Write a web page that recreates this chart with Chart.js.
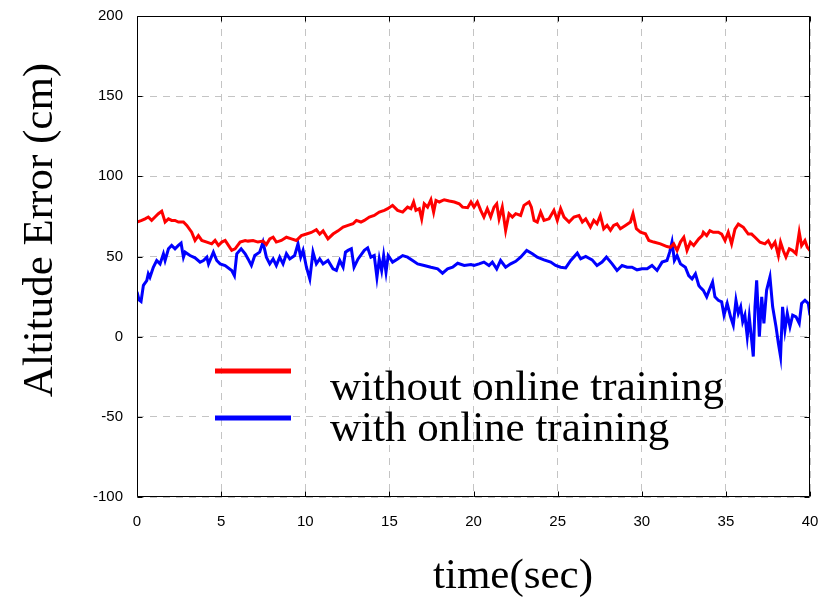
<!DOCTYPE html>
<html>
<head>
<meta charset="utf-8">
<script src="https://cdn.jsdelivr.net/npm/chart.js@4/dist/chart.umd.min.js"></script>
<style>
  html, body { margin: 0; padding: 0; background: #fff; }
  canvas { display: block; }
</style>
</head>
<body>
<canvas id="altChart" width="828" height="598"></canvas>
<script>
// time (sec) and altitude error (cm)
const redTime = [0, 0.28, 0.48, 0.67, 0.87, 1.07, 1.27, 1.47, 1.67, 1.87, 2.06, 2.26, 2.46, 2.76, 2.96, 3.25, 3.45, 3.65, 3.85, 4.15, 4.44, 4.64, 4.84, 5.04, 5.24, 5.63, 5.83, 6.13, 6.43,
    6.6, 6.9, 7.19, 7.49, 7.69, 7.89, 8.09, 8.28, 8.58, 8.88, 9.18, 9.47, 9.77, 10.07, 10.36, 10.66, 10.86, 11.06, 11.35, 11.65, 11.95, 12.25, 12.54, 12.84, 13.04,
    13.31, 13.51, 13.81, 14.1, 14.4, 14.7, 14.9, 15.19, 15.49, 15.79, 16.08, 16.28, 16.44, 16.58, 16.78, 16.92, 17.07, 17.27, 17.47, 17.63, 17.77, 17.97, 18.26, 18.56, 18.86, 19.15, 19.35, 19.65, 19.85,
    20.03, 20.23, 20.43, 20.62, 20.82, 21.02, 21.22, 21.38, 21.52, 21.71, 21.91, 22.11, 22.31, 22.51, 22.8, 23.0, 23.3, 23.44, 23.6, 23.79, 23.99, 24.19, 24.49, 24.78, 24.98, 25.18, 25.38, 25.68, 25.97, 26.27, 26.47, 26.67,
    26.95, 27.15, 27.34, 27.54, 27.74, 27.94, 28.14, 28.33, 28.53, 28.73, 29.03, 29.33, 29.48, 29.68, 29.92, 30.22, 30.42, 30.71, 31.11, 31.5, 31.7, 31.9, 32.1, 32.3, 32.5, 32.69, 32.89, 33.09, 33.39, 33.59,
    33.66, 33.86, 34.05, 34.25, 34.55, 34.75, 34.95, 35.14, 35.34, 35.54, 35.74, 36.04, 36.33, 36.53, 36.73, 37.03, 37.32, 37.52, 37.72, 37.92, 38.12, 38.25, 38.41, 38.57, 38.77, 38.97, 39.17, 39.36, 39.5, 39.7, 39.84, 40];
const redErr = [71.5, 72.5, 73.5, 74.6, 72.5, 74.6, 76.7, 78.3, 71.5, 73.5, 72.5, 72.5, 71.5, 71.5, 69.4, 65.2, 60, 63, 60, 59, 57.9, 60, 56.9, 59, 60, 53.8, 54.8, 59, 60,
    59.6, 60, 59, 59.6, 57.5, 61, 62, 59, 60, 62, 61, 60, 63, 64, 65, 66.7, 64, 66, 61, 64, 66, 68.3, 69.4, 70.4, 72.5,
    71.5, 72.5, 74.6, 75.6, 77.7, 78.8, 79.8, 81.9, 78.8, 77.7, 80.8, 79.8, 84, 78.8, 79.8, 73.5, 82.9, 80.8, 85.4, 77.7, 85, 84, 85.4, 84.6, 84, 82.9, 80.8, 80.4, 84,
    80.8, 84, 78.8, 74.6, 79.8, 74.6, 80.8, 82.9, 73.5, 80.8, 66.3, 76.7, 74.6, 76.7, 75.6, 81.9, 84, 80.8, 72.5, 71.5, 77.7, 72.5, 73.5, 78.8, 72.5, 79.8, 74.6, 71.5, 74.6, 75.6, 71.5, 73.5,
    68.3, 72.5, 70.4, 75.6, 67.3, 69.4, 66.3, 69.4, 70.4, 67.3, 69.4, 71.5, 76.7, 67.3, 65.2, 64.2, 60, 59, 57.9, 56.2, 55.7, 57.9, 53.8, 59, 62, 53.8, 59, 56.9, 61, 63,
    65.1, 63, 66.1, 65.1, 65.1, 64, 59.9, 65.1, 57.9, 67.1, 70.2, 68.2, 64, 64, 62, 58.9, 57.9, 59.9, 55.8, 58.9, 50.6, 58.9, 53.7, 49.6, 54.8, 53.7, 51.7, 65.1, 56.8, 59.9, 55.8, 53.7];

const blueTime = [0, 0.12, 0.24, 0.38, 0.58, 0.67, 0.77, 0.97, 1.17, 1.37, 1.57, 1.67, 1.87, 2.06, 2.26, 2.46, 2.62, 2.76, 2.86, 3.15, 3.45, 3.75, 3.95, 4.15, 4.25, 4.54, 4.74, 4.94, 5.24, 5.63, 5.79, 5.93, 6.19, 6.43,
    6.6, 6.8, 7.0, 7.29, 7.49, 7.69, 7.89, 8.09, 8.28, 8.48, 8.68, 8.88, 9.08, 9.37, 9.57, 9.73, 9.87, 10.07, 10.27, 10.46, 10.66, 10.86, 11.06, 11.35, 11.65, 11.85, 12.05, 12.25, 12.39, 12.54, 12.74, 12.9, 13.14,
    13.51, 13.71, 13.9, 14.1, 14.26, 14.4, 14.54, 14.66, 14.8, 14.93, 15.19, 15.49, 15.79, 16.08, 16.38, 16.68, 17.07, 17.47, 17.87, 18.16, 18.46, 18.76, 19.06, 19.45, 19.85,
    20.03, 20.33, 20.62, 20.92, 21.12, 21.38, 21.61, 21.91, 22.21, 22.51, 22.8, 23.16, 23.5, 23.79, 24.19, 24.59, 24.88, 25.18, 25.48, 25.78, 26.17, 26.37, 26.67,
    27.05, 27.34, 27.64, 27.9, 28.24, 28.53, 28.83, 29.13, 29.42, 29.72, 30.02, 30.32, 30.61, 30.91, 31.21, 31.5, 31.66, 31.8, 31.94, 32.1, 32.3, 32.59, 32.79, 32.99, 33.19, 33.39,
    33.46, 33.66, 33.86, 34.01, 34.21, 34.35, 34.55, 34.75, 34.89, 35.08, 35.28, 35.44, 35.6, 35.74, 35.88, 36.0, 36.13, 36.27, 36.39, 36.53, 36.63, 36.73, 36.83, 36.99, 37.13, 37.26, 37.42, 37.62, 37.78, 37.98, 38.12, 38.25, 38.37, 38.51, 38.65, 38.81, 38.97, 39.17, 39.36, 39.5, 39.7, 39.9, 40];
const blueErr = [28, 23, 22, 32, 35, 39.2, 37, 43.3, 47.5, 45.4, 51.7, 47.5, 54.8, 56.9, 54.8, 56.9, 58.3, 49.6, 52.7, 50.6, 49.2, 46.5, 47.5, 49.6, 45.4, 52.7, 47.5, 45.4, 44.4, 41.3, 38.1, 51.7, 54.8, 51.7,
    48.5, 44.4, 50.6, 52.7, 59, 49.6, 45.4, 48.5, 44.4, 49.6, 45.4, 51.7, 48.5, 50.6, 57.9, 49.6, 53.8, 43.3, 36, 52.7, 45.4, 48.5, 45.4, 47.5, 42.3, 41.3, 47.5, 43.3, 52.7, 53.8, 54.8, 43.3, 48.5,
    53.8, 55.4, 49.6, 50.6, 37, 48.5, 41.3, 50.6, 40.2, 50.6, 46.5, 48.5, 50.6, 49.6, 47.5, 45.4, 44.4, 43.3, 42.3, 39.6, 42.3, 43.3, 45.8, 44.4, 45,
    44.4, 45.4, 46.5, 44.4, 46.5, 42.3, 47.5, 43.3, 45.4, 47, 49.6, 53.8, 51.7, 49.6, 47.9, 46.5, 44.4, 43.3, 42.9, 47.5, 52.1, 48.5, 50,
    47.9, 44.4, 46.5, 49.6, 45.4, 41.3, 44.4, 43.3, 43.3, 41.7, 42.3, 42.3, 44.4, 41.3, 46.5, 47.5, 52.7, 59, 47.5, 50.6, 45.4, 43.3, 38.1, 36, 39.2, 31.9,
    31, 28.9, 24.8, 28.9, 34.1, 24.8, 22.7, 21.7, 13.4, 20.7, 12.4, 7.2, 22.7, 14.5, 18.6, 9.3, 13.4, 0, 12.4, -2, -12.4, 18.6, 35.1, 0, 24.8, 8.3, 28.9, 37.2, 18.6, 6.2, -4.1, -12.4, 18.6, 4.1, 14.5, 6.2, 13.4, 12.4, 8.3, 20.7, 22.7, 20.7, 13.4];

const seriesLabels = ['without online training', 'with online training'];
const seriesColors = ['#ff0000', '#0000ff'];
const xTicks = [0, 5, 10, 15, 20, 25, 30, 35, 40];
const yTicks = [-100, -50, 0, 50, 100, 150, 200];

function toPoints(ts, vs) {
    return ts.map((t, i) => ({ x: t, y: vs[i] }));
}

// box, inward ticks, titles and the in-plot legend
const decorPlugin = {
    id: 'decor',
    afterDatasetsDraw(chart) {
        const { ctx, chartArea: a, scales: { x, y } } = chart;
        ctx.save();
        ctx.strokeStyle = '#000';
        ctx.lineWidth = 1;
        const L = Math.round(a.left) + 0.5, R = Math.round(a.right) - 0.5;
        const T = Math.round(a.top) + 0.5, B = Math.round(a.bottom) - 0.5;
        ctx.beginPath();
        ctx.rect(L, T, R - L, B - T);
        xTicks.forEach(v => {
            const px = Math.round(x.getPixelForValue(v)) + 0.5;
            ctx.moveTo(px, B); ctx.lineTo(px, B - 5);
            ctx.moveTo(px, T); ctx.lineTo(px, T + 5);
        });
        yTicks.forEach(v => {
            const py = Math.round(y.getPixelForValue(v)) + 0.5;
            ctx.moveTo(L, py); ctx.lineTo(L + 5, py);
            ctx.moveTo(R, py); ctx.lineTo(R - 5, py);
        });
        ctx.stroke();

        // legend
        const rows = [{ ly: 371, ty: 400 }, { ly: 418, ty: 441 }];
        ctx.font = '43px "Liberation Serif", "Times New Roman", serif';
        ctx.textAlign = 'left';
        ctx.textBaseline = 'alphabetic';
        ctx.fillStyle = '#000';
        chart.data.datasets.forEach((ds, i) => {
            ctx.beginPath();
            ctx.strokeStyle = ds.borderColor;
            ctx.lineWidth = 5;
            ctx.moveTo(215, rows[i].ly);
            ctx.lineTo(291, rows[i].ly);
            ctx.stroke();
            ctx.fillText(ds.label, 330, rows[i].ty);
        });

        // axis titles
        ctx.font = '43px "Liberation Serif", "Times New Roman", serif';
        ctx.textAlign = 'center';
        ctx.fillText('time(sec)', 513, 588);
        ctx.translate(52, 230);
        ctx.rotate(-Math.PI / 2);
        ctx.fillText('Altitude Error (cm)', 0, 0);
        ctx.restore();
    }
};

const ctx = document.getElementById('altChart').getContext('2d');
const altChart = new Chart(ctx, {
    type: 'line',
    data: {
        datasets: [
            {
                label: seriesLabels[0],
                data: toPoints(redTime, redErr),
                borderColor: seriesColors[0],
                borderWidth: 3,
                pointRadius: 0,
                tension: 0
            },
            {
                label: seriesLabels[1],
                data: toPoints(blueTime, blueErr),
                borderColor: seriesColors[1],
                borderWidth: 3,
                pointRadius: 0,
                tension: 0
            }
        ]
    },
    options: {
        responsive: false,
        animation: false,
        layout: { padding: { left: 0, top: 16, right: 18, bottom: 0 } },
        scales: {
            x: {
                type: 'linear',
                min: 0,
                max: 40,
                afterBuildTicks: s => { s.ticks = xTicks.map(v => ({ value: v })); },
                afterFit: s => { s.height = 101; s.paddingLeft = 0; s.paddingRight = 0; },
                ticks: {
                    color: '#000',
                    padding: 16,
                    font: { family: '"Liberation Sans", Arial, sans-serif', size: 15 }
                },
                grid: { color: '#c4c4c4', lineWidth: 1, drawTicks: false },
                border: { display: false, dash: [7, 6] }
            },
            y: {
                min: -100,
                max: 200,
                afterBuildTicks: s => { s.ticks = yTicks.map(v => ({ value: v })); },
                afterFit: s => { s.width = 137; s.paddingTop = 0; s.paddingBottom = 0; },
                ticks: {
                    color: '#000',
                    padding: 14,
                    font: { family: '"Liberation Sans", Arial, sans-serif', size: 15 }
                },
                grid: { color: '#c4c4c4', lineWidth: 1, drawTicks: false },
                border: { display: false, dash: [7, 6] }
            }
        },
        plugins: {
            legend: { display: false },
            tooltip: { enabled: false }
        }
    },
    plugins: [decorPlugin]
});
</script>
</body>
</html>
